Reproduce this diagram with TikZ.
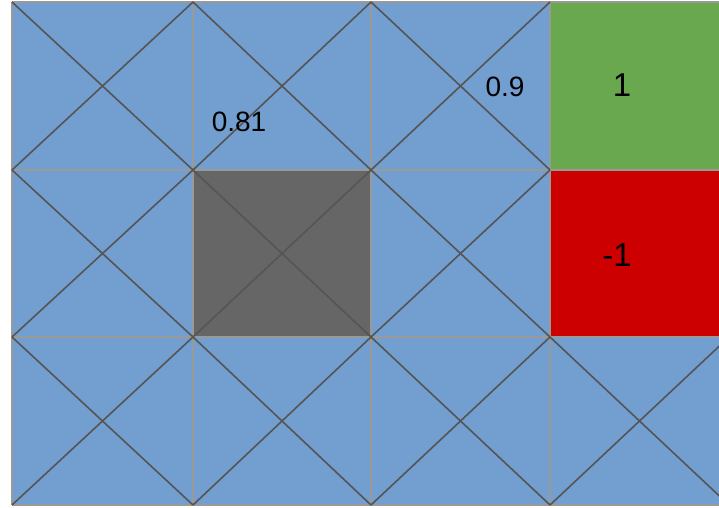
\documentclass[tikz,border=0pt]{standalone}
\usepackage{fontspec}
\setmainfont{Liberation Sans}
\definecolor{cellblue}{HTML}{729FCF}
\definecolor{cellgreen}{HTML}{6AA84F}
\definecolor{cellred}{HTML}{CC0000}
\definecolor{cellgray}{HTML}{666666}
\definecolor{gridgray}{HTML}{999999}
\definecolor{diaggray}{HTML}{555555}
\tikzset{
  gridline/.style={draw=gridgray, line width=1.8pt},
  diagline/.style={draw=diaggray, line width=1.6pt},
  smalllabel/.style={font=\fontsize{28}{31}\selectfont, text=black, inner sep=0pt},
  biglabel/.style={font=\fontsize{33}{36}\selectfont, text=black, inner sep=0pt}
}
\begin{document}
\begin{tikzpicture}[x=1pt,y=-1pt]
\useasboundingbox (0,0) rectangle (719,507);
\clip (0,0) rectangle (719,507);
\fill[white] (0,0) rectangle (719,507);
% cells
\fill[cellblue] (12,2) rectangle (729,505);
\fill[cellgray] (193,170) rectangle (371,337);
\fill[cellgreen] (550,2) rectangle (729,170);
\fill[cellred] (550,170) rectangle (729,337);
% grid lines
\foreach \x in {12,193,371,550} \draw[gridline] (\x,2) -- (\x,505);
\foreach \y in {2,170,337,505} \draw[gridline] (12,\y) -- (729,\y);
% diagonals
\foreach \xa/\xb in {12/193,193/371,371/550} {
  \foreach \ya/\yb in {2/170,170/337,337/505} {
    \draw[diagline] (\xa,\ya) -- (\xb,\yb);
    \draw[diagline] (\xa,\yb) -- (\xb,\ya);
  }
}
\draw[diagline] (550,337) -- (729,505);
\draw[diagline] (550,505) -- (729,337);
% labels
\node[smalllabel] (v81) at (239,122) {0.81};
\node[smalllabel] (v9) at (505,87) {0.9};
\node[biglabel] (vp1) at (622,85) {1};
\node[biglabel] (vm1) at (617,255) {-1};
\end{tikzpicture}
\end{document}
